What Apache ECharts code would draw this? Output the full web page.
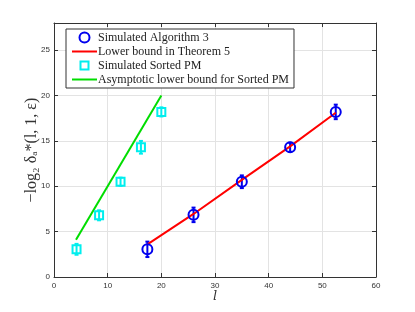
<!DOCTYPE html>
<html><head><meta charset="utf-8">
<script src="https://cdn.jsdelivr.net/npm/echarts@6/dist/echarts.min.js"></script>
<style>html,body{margin:0;padding:0;background:#fff}#c{width:415px;height:312px}</style>
</head><body><div id="c"></div>
<script>
// Data
const algX = [17.4, 26, 35, 44, 52.5];
const algY = [3.05, 6.85, 10.5, 14.3, 18.2];
const algErr = [0.85, 0.8, 0.7, 0.5, 0.8];
const boundX = [17.4, 26, 35, 44, 52.5];
const boundY = [3.6, 6.95, 10.7, 14.4, 18.1];
const pmX = [4.2, 8.4, 12.4, 16.2, 20];
const pmY = [3.05, 6.8, 10.5, 14.3, 18.2];
const pmErr = [0.6, 0.55, 0.45, 0.7, 0.5];
const asymX = [4.1, 20];
const asymY = [4.1, 20];
const xTicks = [0, 10, 20, 30, 40, 50, 60];
const yTicks = [0, 5, 10, 15, 20, 25];
const names = ['Simulated Algorithm 3', 'Lower bound in Theorem 5', 'Simulated Sorted PM', 'Asymptotic lower bound for Sorted PM'];

const zip = (a, b) => a.map((v, i) => [v, b[i]]);
const errData = (xs, ys, es) => xs.map((x, i) => [x, ys[i] - es[i], ys[i] + es[i]]);

function errRender(color, cap) {
  return function (params, api) {
    const lo = api.coord([api.value(0), api.value(1)]);
    const hi = api.coord([api.value(0), api.value(2)]);
    const st = { stroke: color, lineWidth: 2 };
    return { type: 'group', children: [
      { type: 'line', shape: { x1: lo[0], y1: lo[1], x2: hi[0], y2: hi[1] }, style: st },
      { type: 'line', shape: { x1: lo[0] - cap, y1: lo[1], x2: lo[0] + cap, y2: lo[1] }, style: st },
      { type: 'line', shape: { x1: hi[0] - cap, y1: hi[1], x2: hi[0] + cap, y2: hi[1] }, style: st }
    ]};
  };
}

const tickFont = { fontFamily: 'Liberation Sans, Arial, sans-serif', fontSize: 8, color: '#333' };
const axisLine = { show: true, onZero: false, lineStyle: { color: '#333', width: 1 } };
const tickStyle = { show: true, inside: true, length: 4, lineStyle: { color: '#333' } };

const chart = echarts.init(document.getElementById('c'), null, { renderer: 'canvas' });
chart.setOption({
  animation: false,
  backgroundColor: '#fff',
  grid: { left: 54, right: 39, top: 23, bottom: 35 },
  legend: {
    orient: 'vertical', left: 66, top: 29,
    backgroundColor: '#fff', borderColor: '#333', borderWidth: 1,
    padding: [2, 5, 2, 5], itemGap: 1, itemWidth: 25, itemHeight: 10,
    symbolKeepAspect: true,
    textStyle: { fontFamily: 'Liberation Serif, Times New Roman, serif', fontSize: 12, lineHeight: 13, color: '#222', padding: [0, 0, 0, -4] },
    data: [
      { name: names[0], icon: 'circle' },
      { name: names[1], itemStyle: { opacity: 0 } },
      { name: names[2], icon: 'path://M0,0 M1,1 L9,1 L9,9 L1,9 Z M10,10' },
      { name: names[3], itemStyle: { opacity: 0 } }
    ],
    selectedMode: false
  },
  xAxis: [{
    type: 'value', min: 0, max: 60, interval: 10, position: 'bottom',
    name: 'l', nameLocation: 'middle', nameGap: 13, nameMoveOverlap: false,
    nameTextStyle: { fontFamily: 'DejaVu Serif, serif', fontStyle: 'italic', fontSize: 13, color: '#333', verticalAlign: 'top' },
    axisLine: axisLine, axisTick: tickStyle,
    axisLabel: Object.assign({ margin: 5, formatter: v => xTicks.includes(v) ? String(v) : '' }, tickFont),
    splitLine: { show: true, lineStyle: { color: '#e3e3e3', width: 1 } }
  }, {
    type: 'value', min: 0, max: 60, interval: 10, position: 'top',
    axisLine: axisLine, axisTick: tickStyle,
    axisLabel: { show: false }, splitLine: { show: false }
  }],
  yAxis: [{
    type: 'value', min: 0, max: 28, interval: 5, position: 'left',
    name: '−log\u2082 δ\u2090*(l, 1, ε)', nameLocation: 'middle', nameGap: 14, nameRotate: 90, nameMoveOverlap: false,
    nameTextStyle: { fontFamily: 'Liberation Serif, Times New Roman, serif', fontSize: 16, color: '#333' },
    axisLine: axisLine, axisTick: tickStyle,
    axisLabel: Object.assign({ margin: 4, formatter: v => yTicks.includes(v) ? String(v) : '' }, tickFont),
    splitLine: { show: true, lineStyle: { color: '#e3e3e3', width: 1 } }
  }, {
    type: 'value', min: 0, max: 28, interval: 5, position: 'right',
    axisLine: axisLine, axisTick: tickStyle,
    axisLabel: { show: false }, splitLine: { show: false }
  }],
  series: [
    { type: 'custom', name: 'algErr', renderItem: errRender('#0000ee', 2), data: errData(algX, algY, algErr), z: 3, silent: true },
    { type: 'custom', name: 'pmErr', renderItem: errRender('#00eeee', 2), data: errData(pmX, pmY, pmErr), z: 3, silent: true },
    { type: 'line', name: names[1], data: zip(boundX, boundY), symbol: 'none', lineStyle: { color: '#ff0000', width: 2 }, itemStyle: { color: '#ff0000' }, z: 4 },
    { type: 'line', name: names[3], data: zip(asymX, asymY), symbol: 'none', lineStyle: { color: '#00dd00', width: 2 }, itemStyle: { color: '#00dd00' }, z: 4 },
    { type: 'scatter', name: names[0], data: zip(algX, algY), symbol: 'circle', symbolSize: 10,
      itemStyle: { color: 'rgba(0,0,0,0)', borderColor: '#0000ee', borderWidth: 2, opacity: 1 }, z: 5 },
    { type: 'scatter', name: names[2], data: zip(pmX, pmY), symbol: 'rect', symbolSize: 8,
      itemStyle: { color: 'rgba(0,0,0,0)', borderColor: '#00eeee', borderWidth: 2, opacity: 1 }, z: 5 }
  ]
});
</script></body></html>
